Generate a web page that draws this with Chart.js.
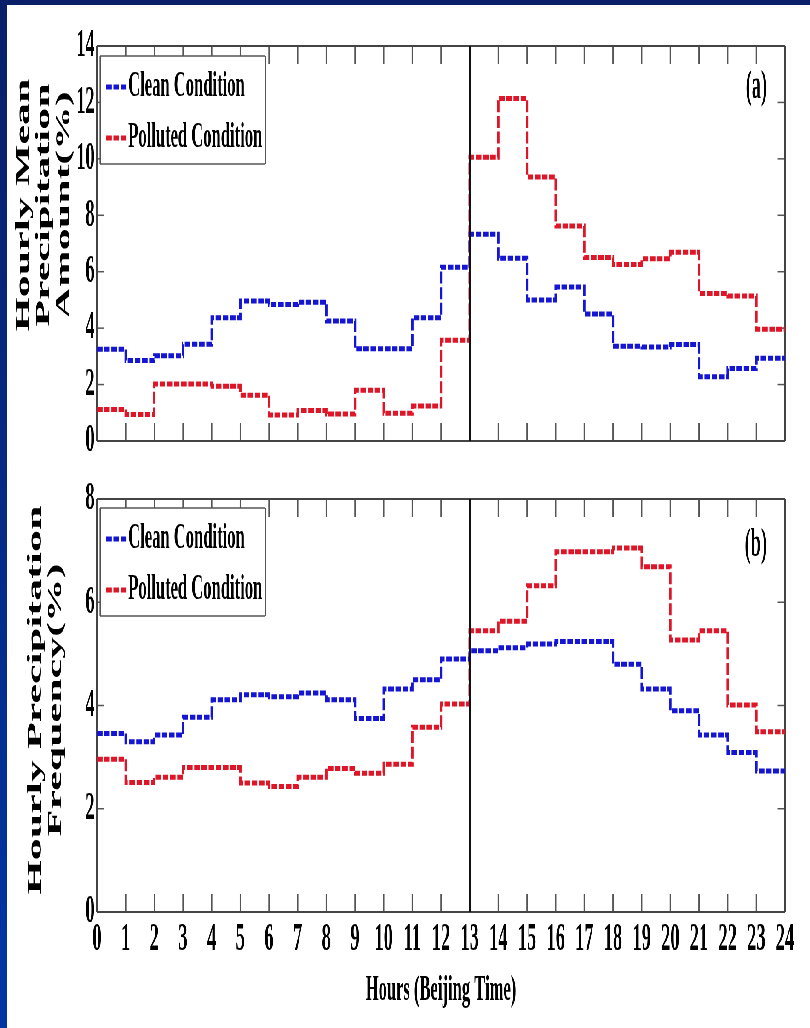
<!DOCTYPE html>
<html>
<head>
<meta charset="utf-8">
<script src="https://cdn.jsdelivr.net/npm/chart.js@4.4.1/dist/chart.umd.min.js"></script>
<style>
  html, body { margin: 0; padding: 0; width: 810px; height: 1028px; overflow: hidden;
    background: linear-gradient(#0a1f68, #0036a3); }
  #paper { position: absolute; left: 7px; top: 5px; width: 803px; height: 1023px; background: #fff; }
  #squeeze { position: absolute; left: 0; top: 0; height: 1028px; transform-origin: 0 0; }
  #squeeze canvas { position: absolute; left: 0; }
</style>
</head>
<body>
<div id="paper"></div>
<div id="squeeze">
  <canvas id="amount-chart"></canvas>
  <canvas id="freq-chart"></canvas>
</div>
<script>
// hour bins, value holds from h to h+1
const hours = [0, 1, 2, 3, 4, 5, 6, 7, 8, 9, 10, 11, 12, 13, 14, 15, 16, 17, 18, 19, 20, 21, 22, 23];

// (a) hourly mean precipitation amount (%)
const cleanAmount = [3.25, 2.85, 3.02, 3.43, 4.37, 4.96, 4.84, 4.92, 4.25, 3.27, 3.27, 4.37,
                     6.16, 7.33, 6.48, 5.0, 5.46, 4.5, 3.36, 3.33, 3.42, 2.28, 2.57, 2.93];
const pollutedAmount = [1.12, 0.94, 2.02, 2.02, 1.94, 1.62, 0.92, 1.08, 0.96, 1.8, 0.98, 1.24,
                        3.57, 10.06, 12.14, 9.36, 7.62, 6.5, 6.26, 6.46, 6.69, 5.23, 5.14, 3.96];

// (b) hourly precipitation frequency (%)
const cleanFreq = [3.46, 3.30, 3.43, 3.77, 4.11, 4.21, 4.17, 4.24, 4.11, 3.75, 4.32, 4.50,
                   4.90, 5.06, 5.12, 5.19, 5.24, 5.24, 4.80, 4.32, 3.90, 3.43, 3.09, 2.73];
const pollutedFreq = [2.96, 2.51, 2.61, 2.80, 2.80, 2.50, 2.43, 2.61, 2.78, 2.69, 2.86, 3.58,
                      4.03, 5.45, 5.63, 6.32, 6.98, 6.98, 7.05, 6.69, 5.27, 5.45, 4.01, 3.49];

const seriesNames = ['Clean Condition', 'Polluted Condition'];
const yTitleAmount = ['Hourly Mean', 'Precipitation', 'Amount(%)'];
const yTitleFreq = ['Hourly Precipitation', 'Frequency(%)'];
const xTitle = 'Hours (Beijing Time)';
const splitHour = 13;

const BLUE = '#1515d4';
const RED = '#df1528';
const FONT = '"Liberation Serif", "Times New Roman", serif';

// the source figure is squeezed sideways, so draw wide and squeeze
const SX = 0.46;
const FULL_W = Math.round(810 / SX);
const PLOT_LEFT = 97 / SX;
const PLOT_RIGHT = 785 / SX;

document.getElementById('squeeze').style.width = FULL_W + 'px';
document.getElementById('squeeze').style.transform = 'scaleX(' + SX + ')';

Chart.defaults.font.family = FONT;
Chart.defaults.color = '#000';

function toSteps(vals) {
    const pts = hours.map((h, i) => ({x: h, y: vals[i]}));
    pts.push({x: 24, y: vals[vals.length - 1]});
    return pts;
}

function seg(ctx, x1, y1, x2, y2) {
    ctx.beginPath();
    ctx.moveTo(x1, y1);
    ctx.lineTo(x2, y2);
    ctx.stroke();
}

const boxPlugin = {
    id: 'matlabBox',
    beforeDatasetsDraw(chart) {
        const {ctx, chartArea: a, scales: {x, y}} = chart;
        ctx.save();
        ctx.strokeStyle = '#555';
        ctx.lineWidth = 3;
        x.ticks.forEach(t => {
            const px = x.getPixelForValue(t.value);
            seg(ctx, px, a.bottom, px, a.bottom - 18);
            seg(ctx, px, a.top, px, a.top + 18);
        });
        ctx.lineWidth = 1.5;
        y.ticks.forEach(t => {
            const py = y.getPixelForValue(t.value);
            seg(ctx, a.left, py, a.left + 16, py);
            seg(ctx, a.right, py, a.right - 16, py);
        });
        ctx.strokeStyle = '#444';
        ctx.lineWidth = 2;
        seg(ctx, a.left, a.top, a.right, a.top);
        seg(ctx, a.left, a.bottom, a.right, a.bottom);
        ctx.lineWidth = 4;
        seg(ctx, a.left, a.top, a.left, a.bottom);
        seg(ctx, a.right, a.top, a.right, a.bottom);
        ctx.restore();
    },
    afterDatasetsDraw(chart, args, opts) {
        const {ctx, chartArea: a, scales: {x}} = chart;
        ctx.save();
        // 13 h divider
        const px = x.getPixelForValue(opts.split);
        ctx.strokeStyle = '#111';
        ctx.lineWidth = 4;
        seg(ctx, px, a.top, px, a.bottom);

        // legend box
        const bx = a.left + 7, by = a.top + opts.legendTop, bw = 359, bh = 108;
        ctx.fillStyle = '#fff';
        ctx.fillRect(bx, by, bw, bh);
        ctx.strokeStyle = '#555';
        ctx.lineWidth = 1.5;
        seg(ctx, bx, by, bx + bw, by);
        seg(ctx, bx, by + bh, bx + bw, by + bh);
        ctx.lineWidth = 3;
        seg(ctx, bx, by, bx, by + bh);
        seg(ctx, bx + bw, by, bx + bw, by + bh);

        ctx.font = 'bold 36px ' + FONT;
        ctx.textBaseline = 'middle';
        ctx.textAlign = 'left';
        chart.data.datasets.forEach((ds, i) => {
            const ry = by + (i === 0 ? 31 : 82);
            ctx.strokeStyle = ds.borderColor;
            ctx.lineWidth = ds.borderWidth;
            ctx.setLineDash(ds.borderDash);
            seg(ctx, bx + 13, ry, bx + 59, ry);
            ctx.setLineDash([]);
            ctx.fillStyle = '#000';
            ctx.fillText(ds.label, bx + 61, ry);
        });

        // panel tag
        ctx.font = 'bold 40px ' + FONT;
        ctx.textAlign = 'right';
        ctx.fillText(opts.tag, a.right - 39, a.top + opts.tagY);
        ctx.restore();
    }
};

function createChart(canvas, top, height, cfg) {
    canvas.width = FULL_W;
    canvas.height = height;
    canvas.style.top = top + 'px';
    const tickFont = {family: FONT, size: 40, weight: 'bold'};
    return new Chart(canvas, {
        type: 'line',
        data: {
            datasets: [
                {label: seriesNames[0], data: toSteps(cfg.clean), borderColor: BLUE},
                {label: seriesNames[1], data: toSteps(cfg.polluted), borderColor: RED}
            ].map(ds => Object.assign(ds, {
                borderWidth: 5,
                borderDash: [12, 3.6],
                stepped: 'before',
                pointRadius: 0,
                fill: false
            }))
        },
        plugins: [boxPlugin],
        options: {
            responsive: false,
            animation: false,
            devicePixelRatio: 1,
            layout: {padding: {top: cfg.padTop, right: FULL_W - PLOT_RIGHT, bottom: 0, left: 0}},
            plugins: {
                legend: {display: false},
                tooltip: {enabled: false},
                matlabBox: {split: splitHour, legendTop: cfg.legendTop, tag: cfg.tag, tagY: cfg.tagY}
            },
            scales: {
                x: {
                    type: 'linear',
                    min: 0,
                    max: 24,
                    grid: {display: false, drawTicks: false},
                    border: {display: false},
                    ticks: {stepSize: 1, display: cfg.xLabels, autoSkip: false, maxRotation: 0,
                            font: tickFont, color: '#000', padding: 4},
                    title: {display: cfg.xLabels, text: xTitle, color: '#000',
                            font: {family: FONT, size: 36, weight: 'bold', lineHeight: 1.2},
                            padding: {top: 0, bottom: 16}},
                    afterFit: s => { s.height = cfg.xHeight; }
                },
                y: {
                    min: 0,
                    max: cfg.yMax,
                    grid: {display: false, drawTicks: false},
                    border: {display: false},
                    ticks: {stepSize: 2, font: tickFont, color: '#000', padding: 5},
                    title: {display: true, text: cfg.yTitle, color: '#000',
                            font: {family: FONT, size: 44, weight: 'bold', lineHeight: 1},
                            padding: {top: cfg.titlePad, bottom: 0}},
                    afterFit: s => { s.width = PLOT_LEFT; }
                }
            }
        }
    });
}

// top panel title sits a bit above the plot centre in the source
createChart(document.getElementById('amount-chart'), 0, 470, {
    clean: cleanAmount, polluted: pollutedAmount, yMax: 14,
    yTitle: yTitleAmount.map(s => '       ' + s),
    titlePad: 30, padTop: 46, xHeight: 13, xLabels: false,
    legendTop: 10, tag: '(a)', tagY: 42
});

createChart(document.getElementById('freq-chart'), 470, 558, {
    clean: cleanFreq, polluted: pollutedFreq, yMax: 8,
    yTitle: yTitleFreq.map(s => ' ' + s),
    titlePad: 56, padTop: 29, xHeight: 116, xLabels: true,
    legendTop: 9, tag: '(b)', tagY: 47
});
</script>
</body>
</html>
